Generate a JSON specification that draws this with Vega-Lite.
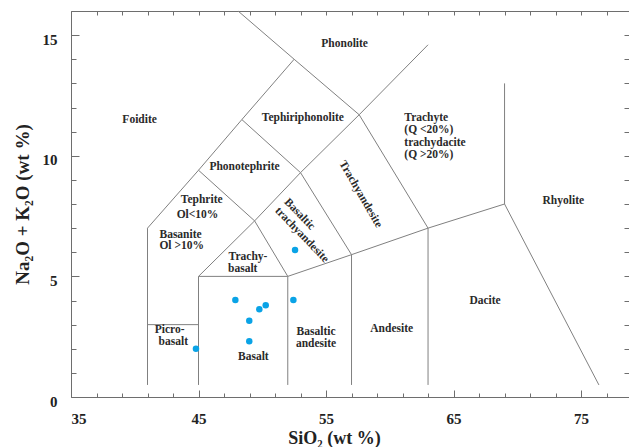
{
  "$schema": "https://vega.github.io/schema/vega-lite/v6.json",
  "description": "Total alkali versus silica (TAS) classification diagram with sample analyses",
  "width": 558,
  "height": 386,
  "autosize": {"type": "none"},
  "padding": {"left": 71, "top": 11, "right": 0, "bottom": 50},
  "background": "white",
  "config": {"view": {"stroke": null}, "font": "Liberation Serif"},
  "datasets": {
    "boundaries": [
      {"seg": "s1", "i": 0, "sio2": 41, "alk": 0.5},
      {"seg": "s1", "i": 1, "sio2": 41, "alk": 7},
      {"seg": "s1", "i": 2, "sio2": 45, "alk": 9.4},
      {"seg": "s1", "i": 3, "sio2": 48.4, "alk": 11.5},
      {"seg": "s1", "i": 4, "sio2": 52.5, "alk": 14},
      {"seg": "s1", "i": 5, "sio2": 57.6, "alk": 11.7},
      {"seg": "s1", "i": 6, "sio2": 63, "alk": 7},
      {"seg": "s1", "i": 7, "sio2": 63, "alk": 0.5},
      {"seg": "s2", "i": 0, "sio2": 48.1, "alk": 16},
      {"seg": "s2", "i": 1, "sio2": 52.5, "alk": 14},
      {"seg": "s3", "i": 0, "sio2": 57.6, "alk": 11.7},
      {"seg": "s3", "i": 1, "sio2": 63, "alk": 14.6},
      {"seg": "s4", "i": 0, "sio2": 41, "alk": 3},
      {"seg": "s4", "i": 1, "sio2": 45, "alk": 3},
      {"seg": "s5", "i": 0, "sio2": 45, "alk": 0.5},
      {"seg": "s5", "i": 1, "sio2": 45, "alk": 5},
      {"seg": "s5", "i": 2, "sio2": 52, "alk": 5},
      {"seg": "s5", "i": 3, "sio2": 52, "alk": 0.5},
      {"seg": "s6", "i": 0, "sio2": 45, "alk": 5},
      {"seg": "s6", "i": 1, "sio2": 49.4, "alk": 7.3},
      {"seg": "s6", "i": 2, "sio2": 52, "alk": 5},
      {"seg": "s7", "i": 0, "sio2": 45, "alk": 9.4},
      {"seg": "s7", "i": 1, "sio2": 49.4, "alk": 7.3},
      {"seg": "s7", "i": 2, "sio2": 53, "alk": 9.3},
      {"seg": "s7", "i": 3, "sio2": 57.6, "alk": 11.7},
      {"seg": "s8", "i": 0, "sio2": 48.4, "alk": 11.5},
      {"seg": "s8", "i": 1, "sio2": 53, "alk": 9.3},
      {"seg": "s8", "i": 2, "sio2": 57, "alk": 5.9},
      {"seg": "s8", "i": 3, "sio2": 57, "alk": 0.5},
      {"seg": "s9", "i": 0, "sio2": 52, "alk": 5},
      {"seg": "s9", "i": 1, "sio2": 57, "alk": 5.9},
      {"seg": "s9", "i": 2, "sio2": 63, "alk": 7},
      {"seg": "s9", "i": 3, "sio2": 69, "alk": 8},
      {"seg": "s9", "i": 4, "sio2": 76.4, "alk": 0.5},
      {"seg": "s10", "i": 0, "sio2": 69, "alk": 8},
      {"seg": "s10", "i": 1, "sio2": 69, "alk": 13}
    ],
    "samples": [
      {"sio2": 52.57, "alk": 6.09},
      {"sio2": 47.89, "alk": 4.02},
      {"sio2": 52.44, "alk": 4.02},
      {"sio2": 49.77, "alk": 3.64},
      {"sio2": 50.27, "alk": 3.8},
      {"sio2": 48.98, "alk": 3.16},
      {"sio2": 48.98, "alk": 2.31},
      {"sio2": 44.8, "alk": 2.0}
    ],
    "fieldNames": [
      {"label": "Foidite", "sio2": 40.38, "alk": 11.48},
      {"label": "Phonolite", "sio2": 56.46, "alk": 14.63},
      {"label": "Tephiriphonolite", "sio2": 53.18, "alk": 11.56},
      {"label": "Phonotephrite", "sio2": 48.61, "alk": 9.55},
      {"label": "Tephrite", "sio2": 45.25, "alk": 8.17},
      {"label": "Ol<10%", "sio2": 44.92, "alk": 7.54},
      {"label": "Basanite", "sio2": 43.59, "alk": 6.72},
      {"label": "Ol >10%", "sio2": 43.68, "alk": 6.26},
      {"label": "Trachy-", "sio2": 48.88, "alk": 5.79},
      {"label": "basalt", "sio2": 48.47, "alk": 5.31},
      {"label": "Picro-", "sio2": 42.74, "alk": 2.78},
      {"label": "basalt", "sio2": 43.02, "alk": 2.27},
      {"label": "Basalt", "sio2": 49.3, "alk": 1.65},
      {"label": "Basaltic", "sio2": 54.22, "alk": 2.71},
      {"label": "andesite", "sio2": 54.22, "alk": 2.2},
      {"label": "Andesite", "sio2": 60.15, "alk": 2.81},
      {"label": "Dacite", "sio2": 67.47, "alk": 3.98},
      {"label": "Rhyolite", "sio2": 73.61, "alk": 8.14}
    ],
    "trachyteNote": [
      {"label": "Trachyte", "sio2": 61.14, "alk": 11.55},
      {"label": "(Q <20%)", "sio2": 61.14, "alk": 11.06},
      {"label": "trachydacite", "sio2": 61.14, "alk": 10.54},
      {"label": "(Q >20%)", "sio2": 61.14, "alk": 10.03}
    ],
    "btaName": [
      {"label": "Basaltic", "sio2": 51.86, "alk": 8.15},
      {"label": "trachyandesite", "sio2": 51.13, "alk": 7.79}
    ],
    "taName": [
      {"label": "Trachyandesite", "sio2": 56.23, "alk": 9.75}
    ]
  },
  "layer": [
    {
      "data": {"name": "boundaries"},
      "mark": {"type": "line", "color": "#808080", "strokeWidth": 1},
      "encoding": {
        "x": {
          "field": "sio2", "type": "quantitative",
          "scale": {"domain": [35, 78.76], "nice": false, "zero": false},
          "axis": {
            "orient": "bottom",
            "values": [35, 37, 39, 41, 43, 45, 47, 49, 51, 53, 55, 57, 59, 61, 63, 65, 67, 69, 71, 73, 75, 77],
            "labelExpr": "datum.value % 10 === 5 ? datum.label : ''",
            "tickSize": {"condition": {"test": "datum.value % 10 === 5", "value": -7}, "value": -4},
            "labelPadding": 28,
            "labelBaseline": "middle",
            "labelFont": "Liberation Serif",
            "labelFontWeight": "bold",
            "labelFontSize": 15,
            "labelColor": "#222222",
            "domainColor": "#6e6e6e",
            "tickColor": "#6e6e6e",
            "grid": false,
            "title": "SiO₂  (wt %)",
            "titleX": 263,
            "titleY": 41,
            "titleAlign": "center",
            "titleBaseline": "middle",
            "titleFont": "Liberation Serif",
            "titleFontWeight": "bold",
            "titleFontSize": 18,
            "titleColor": "#222222"
          }
        },
        "y": {
          "field": "alk", "type": "quantitative",
          "scale": {"domain": [0, 16], "nice": false},
          "axis": {
            "orient": "left",
            "values": [0, 1, 2, 3, 4, 5, 6, 7, 8, 9, 10, 11, 12, 13, 14, 15, 16],
            "labelExpr": "datum.value % 5 === 0 ? datum.label : ''",
            "tickSize": {"condition": {"test": "datum.value % 5 === 0", "value": -8}, "value": -5},
            "labelPadding": 22,
            "labelOffset": 4,
            "labelFont": "Liberation Serif",
            "labelFontWeight": "bold",
            "labelFontSize": 15,
            "labelColor": "#222222",
            "domainColor": "#6e6e6e",
            "tickColor": "#6e6e6e",
            "grid": false,
            "title": "Na₂O + K₂O (wt %)",
            "titleX": -49,
            "titleY": 193,
            "titleAngle": -90,
            "titleAlign": "center",
            "titleBaseline": "middle",
            "titleFont": "Liberation Serif",
            "titleFontWeight": "bold",
            "titleFontSize": 19,
            "titleColor": "#222222"
          }
        },
        "detail": {"field": "seg", "type": "nominal"},
        "order": {"field": "i", "type": "quantitative"}
      }
    },
    {
      "data": {"name": "samples"},
      "mark": {"type": "circle", "color": "#0aa3e6", "opacity": 1, "size": 42},
      "encoding": {
        "x": {
          "field": "sio2", "type": "quantitative",
          "scale": {"domain": [35, 78.76], "nice": false, "zero": false},
          "axis": {
            "orient": "top",
            "values": [35, 37, 39, 41, 43, 45, 47, 49, 51, 53, 55, 57, 59, 61, 63, 65, 67, 69, 71, 73, 75, 77],
            "labels": false,
            "tickSize": -4,
            "domainColor": "#6e6e6e",
            "tickColor": "#6e6e6e",
            "grid": false,
            "title": null
          }
        },
        "y": {
          "field": "alk", "type": "quantitative",
          "scale": {"domain": [0, 16], "nice": false},
          "axis": {
            "orient": "right",
            "values": [0, 1, 2, 3, 4, 5, 6, 7, 8, 9, 10, 11, 12, 13, 14, 15, 16],
            "labels": false,
            "tickSize": -5,
            "domain": false,
            "tickColor": "#6e6e6e",
            "grid": false,
            "title": null
          }
        }
      }
    },
    {
      "data": {"name": "fieldNames"},
      "mark": {"type": "text", "font": "Liberation Serif", "fontWeight": "bold", "fontSize": 11.5, "color": "#2a2a2a", "align": "center", "baseline": "middle"},
      "encoding": {
        "x": {"field": "sio2", "type": "quantitative", "axis": null},
        "y": {"field": "alk", "type": "quantitative", "axis": null},
        "text": {"field": "label"}
      }
    },
    {
      "data": {"name": "trachyteNote"},
      "mark": {"type": "text", "font": "Liberation Serif", "fontWeight": "bold", "fontSize": 11.5, "color": "#2a2a2a", "align": "left", "baseline": "middle"},
      "encoding": {
        "x": {"field": "sio2", "type": "quantitative", "axis": null},
        "y": {"field": "alk", "type": "quantitative", "axis": null},
        "text": {"field": "label"}
      }
    },
    {
      "data": {"name": "btaName"},
      "mark": {"type": "text", "font": "Liberation Serif", "fontWeight": "bold", "fontSize": 11.5, "color": "#2a2a2a", "align": "left", "baseline": "middle", "angle": 46},
      "encoding": {
        "x": {"field": "sio2", "type": "quantitative", "axis": null},
        "y": {"field": "alk", "type": "quantitative", "axis": null},
        "text": {"field": "label"}
      }
    },
    {
      "data": {"name": "taName"},
      "mark": {"type": "text", "font": "Liberation Serif", "fontWeight": "bold", "fontSize": 11.5, "color": "#2a2a2a", "align": "left", "baseline": "middle", "angle": 60},
      "encoding": {
        "x": {"field": "sio2", "type": "quantitative", "axis": null},
        "y": {"field": "alk", "type": "quantitative", "axis": null},
        "text": {"field": "label"}
      }
    }
  ],
  "resolve": {"axis": {"x": "independent", "y": "independent"}}
}
